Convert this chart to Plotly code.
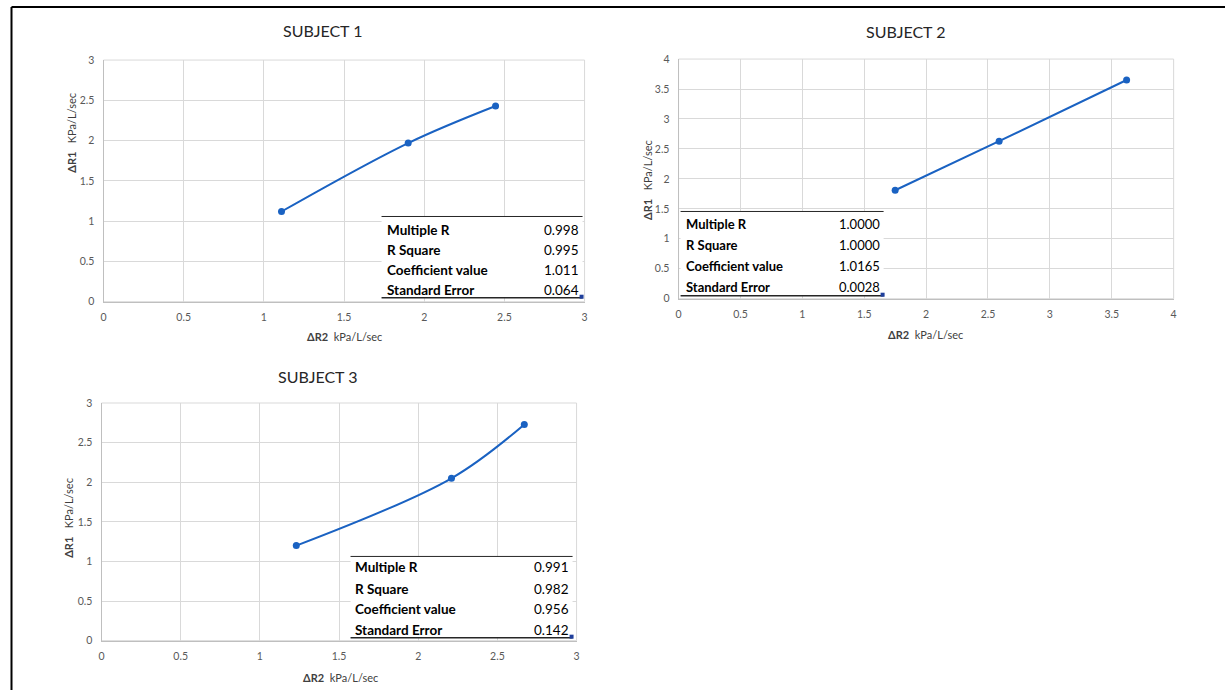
import plotly.graph_objects as go

W, H = 1228, 696

# ---- data ----
subjects = ["SUBJECT 1", "SUBJECT 2", "SUBJECT 3"]
s1_x = [1.11, 1.90, 2.445]
s1_y = [1.12, 1.97, 2.43]
s2_x = [1.75, 2.59, 3.62]
s2_y = [1.81, 2.63, 3.65]
s3_x = [1.23, 2.21, 2.67]
s3_y = [1.20, 2.05, 2.73]
stat_labels = ["Multiple R", "R Square", "Coefficient value", "Standard Error"]
s1_stats = ["0.998", "0.995", "1.011", "0.064"]
s2_stats = ["1.0000", "1.0000", "1.0165", "0.0028"]
s3_stats = ["0.991", "0.982", "0.956", "0.142"]
x_ranges = [3, 4, 3]
y_ranges = [3, 4, 3]

FONT = "Lato"
LINE_C = "#1a62c2"
GRID_C = "#d9d9d9"
TICK_C = "#595959"


def px(x):
    return ((x - 2.5) / 0.995) / W


def py(y):
    return 1 - ((y - 6.1) / 0.98) / H


# plot-area boxes in pixels: (left, right, top, bottom)
boxes = [(103, 584, 60, 301), (678, 1173, 59, 298), (101, 576, 402, 639)]
titles_pos = [(322, 31), (905, 32), (317, 376)]
xt_pos = [(344, 336), (925, 334), (340, 676)]
yt_pos = [(71, 133), (647, 180), (68, 517)]
table_font = [13.5, 13, 13.5]
# tables: left, right, top line, bottom line, row y's, label x, value right x
tables = [
    (381, 582, 216, 297, [229, 249, 269, 289], 384, 580),
    (680, 883, 211, 295, [223, 244, 265, 286], 683, 881),
    (350, 572, 555, 636, [566, 587, 607, 628], 352, 570),
]

fig = go.Figure()
datasets = [(s1_x, s1_y), (s2_x, s2_y), (s3_x, s3_y)]
stats = [s1_stats, s2_stats, s3_stats]

annotations = []
shapes = []
for i, ((xs, ys), box) in enumerate(zip(datasets, boxes)):
    ax = "" if i == 0 else str(i + 1)
    fig.add_trace(go.Scatter(
        x=xs, y=ys, mode="lines+markers",
        line=dict(color=LINE_C, width=2, shape="spline", smoothing=1),
        marker=dict(color=LINE_C, size=7),
        xaxis="x" + ax, yaxis="y" + ax, showlegend=False, hoverinfo="x+y",
    ))
    l, r, t, b = box
    common = dict(showgrid=True, gridcolor=GRID_C, gridwidth=1, zeroline=False,
                  showline=True, linecolor="#bfbfbf", linewidth=1, mirror=False,
                  ticks="", tickfont=dict(family=FONT, size=10.5, color=TICK_C),
                  dtick=0.5, tick0=0, fixedrange=True)
    fig.layout["xaxis" + ax] = dict(domain=[px(l), px(r)], range=[0, x_ranges[i]],
                                    anchor="y" + ax, ticklabelstandoff=6, **common)
    fig.layout["yaxis" + ax] = dict(domain=[py(b), py(t)], range=[0, y_ranges[i]],
                                    anchor="x" + ax, ticklabelstandoff=6, **common)
    # right / top border of plot box
    shapes.append(dict(type="rect", xref="paper", yref="paper",
                       x0=px(l), x1=px(r), y0=py(b), y1=py(t),
                       line=dict(color=GRID_C, width=1), layer="below"))
    # titles
    tx, ty = titles_pos[i]
    annotations.append(dict(text=subjects[i], x=px(tx), y=py(ty), xref="paper", yref="paper",
                            showarrow=False, font=dict(family=FONT, size=16, color="#262626"),
                            xanchor="center", yanchor="middle"))
    xx, xy = xt_pos[i]
    annotations.append(dict(text="<b>ΔR2</b>  kPa/L/sec", x=px(xx), y=py(xy), xref="paper", yref="paper",
                            showarrow=False, font=dict(family=FONT, size=11, color="#404040"),
                            xanchor="center", yanchor="middle"))
    yx, yy = yt_pos[i]
    annotations.append(dict(text="<b>ΔR1</b>   KPa/L/sec", x=px(yx), y=py(yy), xref="paper", yref="paper",
                            showarrow=False, textangle=-90,
                            font=dict(family=FONT, size=11, color="#404040"),
                            xanchor="center", yanchor="middle"))
    # stats table
    tl, tr, ttop, tbot, rows, lx, vx = tables[i]
    shapes.append(dict(type="rect", xref="paper", yref="paper",
                       x0=px(tl), x1=px(tr), y0=py(tbot), y1=py(ttop),
                       fillcolor="white", line=dict(width=0), layer="above"))
    shapes.append(dict(type="line", xref="paper", yref="paper",
                       x0=px(tl), x1=px(tr), y0=py(ttop), y1=py(ttop),
                       line=dict(color="#262626", width=1)))
    shapes.append(dict(type="line", xref="paper", yref="paper",
                       x0=px(tl), x1=px(tr), y0=py(tbot), y1=py(tbot),
                       line=dict(color="#262626", width=1.5)))
    shapes.append(dict(type="rect", xref="paper", yref="paper",
                       x0=px(tr - 3), x1=px(tr + 1), y0=py(tbot + 1), y1=py(tbot - 3),
                       fillcolor="#1f3f9c", line=dict(width=0)))
    fs = table_font[i]
    for lab, val, ry in zip(stat_labels, stats[i], rows):
        annotations.append(dict(text="<b>%s</b>" % lab, x=px(lx), y=py(ry), xref="paper", yref="paper",
                                showarrow=False, font=dict(family=FONT, size=fs, color="black"),
                                xanchor="left", yanchor="middle"))
        annotations.append(dict(text=val, x=px(vx), y=py(ry), xref="paper", yref="paper",
                                showarrow=False, font=dict(family=FONT, size=fs, color="black"),
                                xanchor="right", yanchor="middle"))

# outer frame (top and left edges)
shapes.append(dict(type="line", xref="paper", yref="paper", x0=px(11), x1=1, y0=py(7), y1=py(7),
                   line=dict(color="black", width=2)))
shapes.append(dict(type="line", xref="paper", yref="paper", x0=px(11), x1=px(11), y0=py(7), y1=0,
                   line=dict(color="black", width=2)))

fig.update_layout(width=W, height=H, margin=dict(l=0, r=0, t=0, b=0),
                  paper_bgcolor="white", plot_bgcolor="white",
                  annotations=annotations, shapes=shapes,
                  font=dict(family=FONT))
fig.write_html("out.html", config={"displayModeBar": False},
               post_script="document.body.style.margin='0';document.body.style.overflow='hidden';")
